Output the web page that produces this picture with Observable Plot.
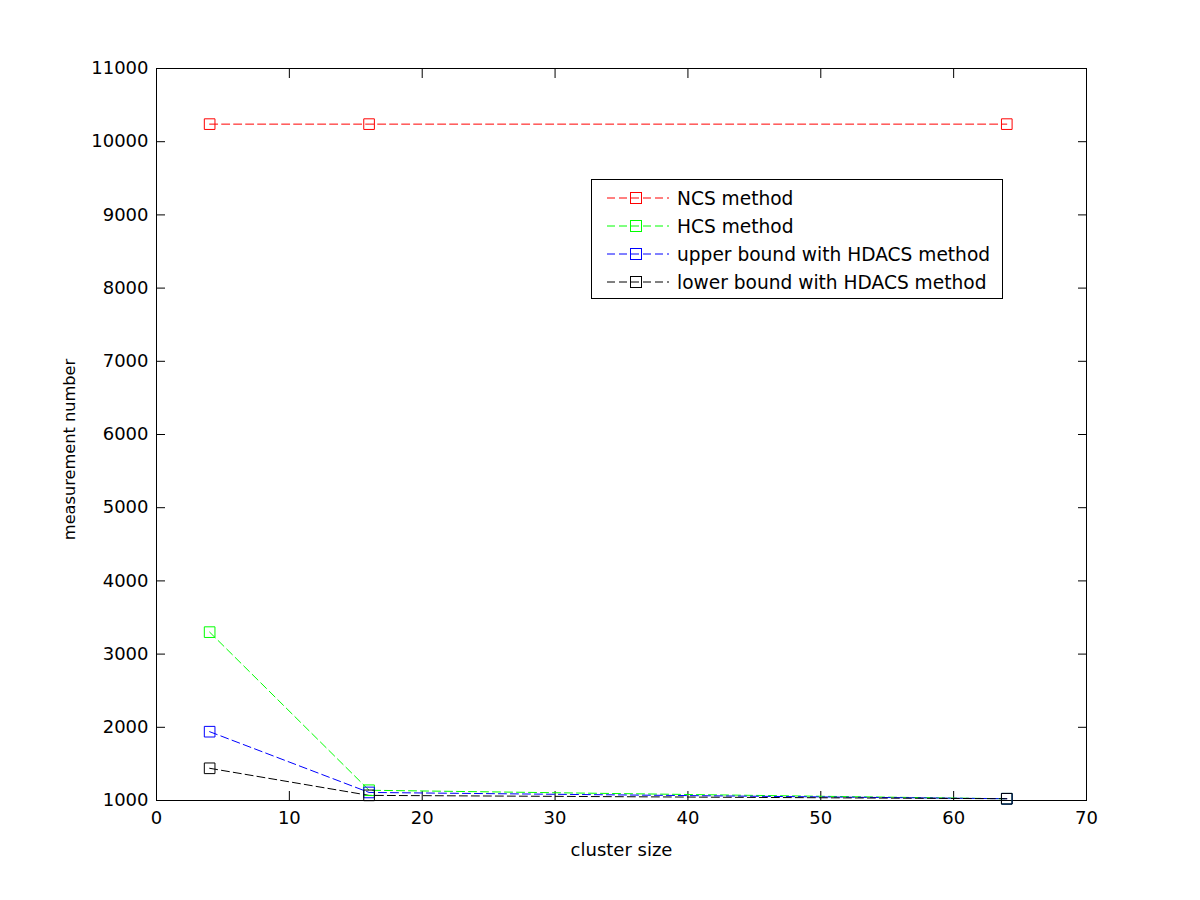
<!DOCTYPE html>
<html>
<head>
<meta charset="utf-8">
<script src="https://cdn.jsdelivr.net/npm/d3@7"></script>
<script src="https://cdn.jsdelivr.net/npm/@observablehq/plot@0.6"></script>
<style>
  html, body { margin: 0; padding: 0; background: #fff; }
  #wrap { position: relative; width: 1200px; height: 900px; font-family: "DejaVu Sans", sans-serif; }
  #legend { position: absolute; left: 591px; top: 179px; width: 410px; height: 118px; border: 1px solid #000; background: #fff; box-sizing: content-box; }
  .row { position: absolute; left: 0; height: 28px; display: flex; align-items: center; }
  .row span { font-size: 18.6px; color: #000; margin-left: 8px; white-space: nowrap; }
</style>
</head>
<body>
<div id="wrap"><div id="legend"></div></div>
<script>
const clusterSizes = [4, 16, 64];
const seriesNames = ["NCS method", "HCS method", "upper bound with HDACS method", "lower bound with HDACS method"];
const seriesColors = ["#ff0000", "#00ff00", "#0000ff", "#000000"];
const ncsValues = [10240, 10240, 10240];
const hcsValues = [3300, 1140, 1024];
const upperValues = [1940, 1110, 1024];
const lowerValues = [1440, 1070, 1024];
const xTicks = [0, 10, 20, 30, 40, 50, 60, 70];
const yTicks = [1000, 2000, 3000, 4000, 5000, 6000, 7000, 8000, 9000, 10000, 11000];

const allSeries = [ncsValues, hcsValues, upperValues, lowerValues];
const rows = [];
allSeries.forEach((vals, si) => {
  vals.forEach((v, i) => rows.push({series: seriesNames[si], x: clusterSizes[i], y: v, color: seriesColors[si], order: si}));
});

const font = "DejaVu Sans, sans-serif";
const blank = () => "";

const chart = Plot.plot({
  width: 1200,
  height: 900,
  marginLeft: 156,
  marginRight: 114,
  marginTop: 68,
  marginBottom: 100,
  style: {fontFamily: font, fontSize: "18px", background: "#fff", color: "#000"},
  x: {domain: [0, 70], ticks: xTicks},
  y: {domain: [1000, 11000], ticks: yTicks},
  marks: [
    Plot.frame({stroke: "#000", strokeWidth: 1}),
    Plot.axisX({ticks: xTicks, tickSize: 0, tickPadding: 11, tickFormat: d => String(d), fontSize: 18, label: null}),
    Plot.axisX({ticks: xTicks, tickSize: -9, tickFormat: blank, label: null}),
    Plot.axisX({anchor: "top", ticks: xTicks, tickSize: -9, tickFormat: blank, label: null}),
    Plot.axisY({ticks: yTicks, tickSize: 0, tickPadding: 8, tickFormat: d => String(d), fontSize: 18, label: null}),
    Plot.axisY({ticks: yTicks, tickSize: -9, tickFormat: blank, label: null}),
    Plot.axisY({anchor: "right", ticks: yTicks, tickSize: -9, tickFormat: blank, label: null}),
    Plot.text(["cluster size"], {frameAnchor: "bottom", dy: 55, fontSize: 18, textAnchor: "middle", text: d => d}),
    Plot.text(["measurement number"], {frameAnchor: "left", dx: -87, dy: 15, rotate: -90, fontSize: 16.2, textAnchor: "middle", text: d => d}),
    ...allSeries.map((vals, si) =>
      Plot.line(rows.filter(r => r.order === si), {x: "x", y: "y", stroke: seriesColors[si], strokeWidth: 1, strokeDasharray: "8,4"})
    ),
    ...allSeries.map((vals, si) =>
      Plot.dot(rows.filter(r => r.order === si), {x: "x", y: "y", symbol: "square", r: 6, stroke: seriesColors[si], strokeWidth: 1, fill: "none"})
    )
  ]
});
document.getElementById("wrap").prepend(chart);

const legend = document.getElementById("legend");
seriesNames.forEach((name, i) => {
  const row = document.createElement("div");
  row.className = "row";
  row.style.top = (4 + i * 28) + "px";
  row.style.left = "15px";
  const c = seriesColors[i];
  row.innerHTML = `<svg width="62" height="28"><line x1="0" y1="14" x2="62" y2="14" stroke="${c}" stroke-width="1" stroke-dasharray="8,4"/><rect x="23.5" y="8.5" width="11" height="11" fill="none" stroke="${c}" stroke-width="1"/></svg><span>${name}</span>`;
  legend.appendChild(row);
});
</script>
</body>
</html>
